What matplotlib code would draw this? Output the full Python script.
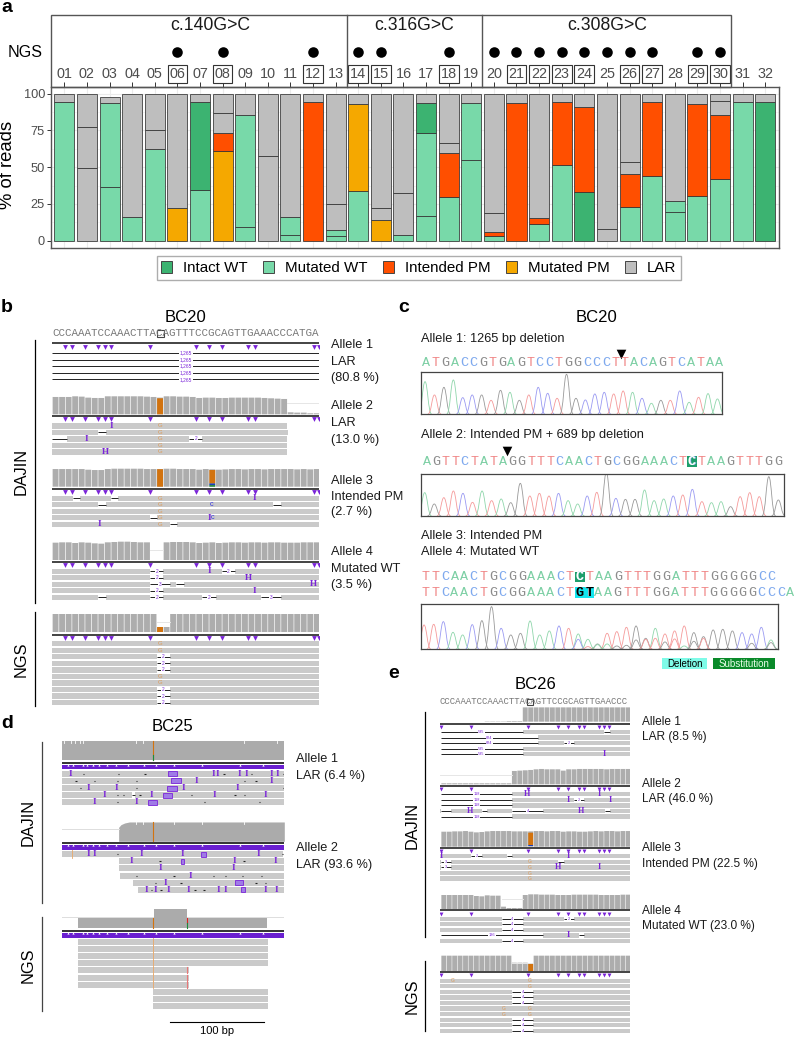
"""Composite figure: allele fractions per barcode, read pileups and Sanger traces."""

import matplotlib

matplotlib.use("Agg")
import matplotlib.pyplot as plt
import numpy as np
from matplotlib.patches import Patch, PathPatch, Rectangle
from matplotlib.path import Path

W, H = 795, 1037
plt.rcParams["font.family"] = ["Liberation Sans", "DejaVu Sans"]

# panel a
BARCODES = [f"{i:02d}" for i in range(1, 33)]
ALLELE_NAMES = ["Intact WT", "Mutated WT", "Intended PM", "Mutated PM", "LAR"]
ALLELE_KEYS = ["W", "M", "I", "P", "L"]
ALLELE_COLORS = ["#3cb371", "#78d9a9", "#ff4f00", "#f5a800", "#bebebe"]
BAR_KINDS = [
    "ML", "LLL", "MML", "ML", "MLL", "PL", "MWL", "PILL", "MML", "LL", "MML", "IL", "MMLL", "MPL", "PLL", "MLL",
    "MMWL", "MILL", "MML", "MILL", "IL", "MIL", "MIL", "WIL", "LL", "MILL", "MIL", "MML", "MIL", "MILL", "ML", "WL",
]
BAR_TOPS = [
    [94.1, 100], [49.4, 77.1, 100], [36.3, 93.4, 98, 100], [16.3, 100], [62.4, 75.3, 100], [22.4, 100],
    [34.5, 94.6, 100], [61.2, 73.5, 86.6, 100], [9.5, 85.3, 100], [57.8, 100], [3.9, 15.9, 100], [94.3, 100],
    [3, 7, 24.7, 100], [34, 92.7, 100], [14, 22, 100], [3.6, 32.7, 100], [16.8, 73.5, 93.4, 100],
    [29.5, 60, 66.2, 100], [54.9, 93.7, 100], [3, 5.7, 19, 100], [93.7, 100], [11.3, 15.6, 100],
    [51.2, 94.6, 100], [32.9, 91.2, 100], [7.9, 100], [22.7, 45.1, 53.7, 100], [44.2, 94.1, 100],
    [19.3, 26.8, 100], [30.4, 92.7, 100], [42.2, 85.3, 94.8, 100], [94.3, 100], [94.3, 100],
]
NGS_BARCODES = [6, 8, 12, 14, 15, 18, 20, 21, 22, 23, 24, 25, 26, 27, 29, 30]
BOXED_BARCODES = [6, 8, 12, 14, 15, 18, 21, 22, 23, 24, 26, 27, 29, 30]
STRIP_LABELS = ["c.140G>C", "c.316G>C", "c.308G>C"]

# panel b
B_SEQ = "CCCAAATCCAAACTTACAGTTTCCGCAGTTGAAACCCATGA"
B_MOTIFS = [2, 3, 5, 7, 8, 9, 15, 22, 24, 26, 30, 31, 40, 40.8]
B_COV2 = [52, 52, 52, 54, 53, 50, 49, 49, 54, 54, 54, 54, 54, 54, 53, 52, 50, 54, 54, 53, 53, 52, 49, 50, 50, 49,
          49, 50, 50, 50, 50, 50, 49, 48, 47, 46, 6, 5, 5, 3, 3]
B_COV3 = [53, 53, 53, 53, 53, 51, 50, 50, 53, 54, 54, 54, 54, 54, 53, 53, 53, 54, 54, 53, 53, 53, 51, 53, 52, 51,
          52, 53, 53, 52, 53, 53, 52, 53, 53, 53, 53, 52, 53, 52, 53]
B_COV4 = [52, 53, 53, 51, 53, 52, 50, 49, 53, 54, 55, 55, 54, 53, 53, 0, 0, 53, 54, 54, 54, 53, 51, 52, 53, 51,
          52, 53, 53, 52, 53, 53, 52, 53, 53, 52, 52, 52, 53, 53, 53]
B_COVN = [54, 54, 54, 54, 54, 54, 54, 54, 54, 54, 54, 54, 54, 54, 54, 54, 15, 15, 54, 54, 54, 54, 54, 54, 54, 54,
          54, 54, 54, 54, 54, 54, 54, 54, 54, 54, 54, 54, 54, 54, 54]
B_READS1 = [(0, 0, [("D", 0, 40.9, "1,265")]) for _ in range(5)]
B_READS2 = [
    (0, 35.9, [("I", 9.1), ("G", 16.5)]),
    (0, 36.1, [("D", 7, 8.2, None), ("G", 16.5)]),
    (0, 35.9, [("D", 0, 2.2, None), ("I", 5.2), ("G", 16.5), ("D", 21, 23, "2")]),
    (0, 35.9, [("G", 16.5)]),
    (0, 35.9, [("H", 8.1), ("G", 16.5)]),
]
B_READS3 = [
    (0, 41, [("D", 3.1, 4.2, None), ("D", 9, 10.1, None), ("I", 31), ("G", 16.5)]),
    (0, 41, [("D", 7, 8.2, None), ("C", 24.4), ("D", 33.8, 35, None), ("G", 16.5)]),
    (0, 41, [("G", 16.5)]),
    (0, 41, [("D", 15, 16.1, None), ("I", 24.1), ("C", 24.5), ("G", 16.5)]),
    (0, 41, [("I", 7.2), ("D", 18, 19.1, None), ("G", 16.5)]),
]
B_READS4 = [
    (0, 41, [("D", 15, 17, "2"), ("I", 24), ("D", 26, 28, "2")]),
    (0, 41, [("D", 15, 17, "2"), ("H", 30)]),
    (0, 41, [("D", 15, 18, "3"), ("D", 19, 20.1, None), ("H", 40)]),
    (0, 41, [("D", 15, 17, "2"), ("I", 31)]),
    (0, 41, [("D", 7, 8.2, None), ("D", 15, 17, "2"), ("D", 23, 25, "2"), ("D", 32, 35, "3")]),
]
B_READSN = [(0, 41, [("G", 16.5)] if kind == "G" else [("D", 16, 18, "2")]) for kind in "GGDDDGGDDD"]

# panel c
C_SEQ1 = "ATGACCGTGAGTCCTGGCCCTTACAGTCATAA"
C_SEQ2 = "AGTTCTATAGGTTTCAACTGCGGAAACTCTAAGTTTGG"
C_SEQ3 = "TTCAACTGCGGAAACTCTAAGTTTGGATTTGGGGGCC"
C_SEQ4 = "TTCAACTGCGGAAACTGTAAGTTTGGATTTGGGGGCCCA"
TRACE1_CALLS = "ATGACCGTGAGTCCTGGCCCTTACAGTCATAA"
TRACE1_PEAKS = [98, 58, 81, 103, 50, 58, 58, 42, 72, 66, 42, 58, 81, 63, 48, 120, 48, 43, 61, 66, 61, 70, 66, 48,
                33, 42, 42, 70, 36, 51, 62, 46]
TRACE2_CALLS = "AGTTCTATAGGTTTCAACTGCGGAAACTCTAAGTTTGG"
TRACE2_PEAKS = [70, 36, 55, 75, 68, 41, 75, 46, 51, 40, 98, 60, 68, 60, 68, 46, 36, 60, 71, 130, 53, 50, 50, 78,
                46, 51, 60, 63, 80, 43, 40, 43, 28, 58, 70, 58, 118, 48]
TRACE3_PEAKS = [73, 75, 83, 51, 43, 74, 86, 128, 63, 43, 48, 85, 43, 55, 70, 63, 46, 30, 16, 48, 53, 66, 70, 33,
                63, 46, 55, 70, 50, 38, 58, 60, 55, 50, 46, 66, 28]
TRACE3_MAIN = "TTCAACGGCGGAAACTAAGTTTGGATTTGGGGGCCCA"
TRACE3_SECOND = "................CTAAGGGTTGTAGTT...GGGCC"[:37]
TRACE3_SECOND_PEAKS = [0] * 16 + [30, 8, 14, 16, 10, 12, 28, 30, 33, 22, 31, 10, 24, 33, 0, 0, 0, 20, 18, 0, 20]

# panel d, positions in bp
D_READS1 = [
    (0, 237.4, [("I", 8.9), ("X", 113.5, 123.1), ("I", 161.6), ("I", 165.8), ("I", 189.7), ("I", 197.5), ("I", 223.8),
                ("I", 230.6), ("d", 22.8), ("d", 60.1), ("d", 88.6), ("d", 173), ("d", 202.5), ("d", 236.3)]),
    (0, 237.4, [("X", 116.4, 126.7), ("I", 143.4), ("I", 223.8), ("d", 14.9), ("d", 34.5), ("d", 59.4), ("d", 79.7),
                ("d", 194.7), ("d", 207.1)]),
    (0, 237.4, [("I", 28.5), ("I", 58.4), ("X", 112.5, 122.4), ("I", 129.5), ("I", 187.9), ("d", 19.6), ("d", 79.7),
                ("d", 236.3)]),
    (0, 237.4, [("I", 45.2), ("I", 95.7), ("X", 107.5, 117.4), ("I", 162.3), ("I", 217.4), ("d", 59.4), ("d", 65.5),
                ("D", 74.5, 78, None), ("d", 83.3), ("d", 138.4), ("d", 184.7), ("d", 194.7)]),
    (0, 237.4, [("I", 34.5), ("I", 79.7), ("X", 91.8, 101.1), ("d", 59.1), ("d", 152), ("d", 210.7)]),
]
D_READS2 = [
    (0, 236, [("T", 11), ("I", 28.5), ("I", 34.9), ("I", 84.7), ("I", 128.8), ("X", 148.4, 153.4), ("I", 209.6),
              ("d", 59.1), ("d", 235.2)]),
    (60.5, 237.4, [("I", 73.7), ("X", 127, 130.6), ("I", 184.3), ("I", 227.8), ("d", 104.6), ("d", 194.3)]),
    (60.5, 237.4, [("I", 105), ("I", 183.6)]),
    (61.9, 237.4, [("I", 137), ("d", 79.7), ("d", 119.6), ("d", 161.6), ("d", 174.7), ("d", 192.5), ("d", 213.2)]),
    (75.4, 237.4, [("I", 111), ("X", 184.7, 192.9), ("d", 99.6), ("d", 127), ("d", 207.1), ("d", 217.4)]),
    (80.8, 237.4, [("I", 90.7), ("I", 99.3), ("I", 114.2), ("I", 135.2), ("I", 167.3), ("I", 174.4),
                   ("X", 191.5, 195.4), ("I", 217.8), ("I", 229.5), ("d", 95.7), ("d", 105.7), ("d", 142), ("d", 151.6)]),
]
D_READSN = [
    (17.4, 219.6, [("T", 97.5)]), (17.4, 219.6, [("T", 97.5)]), (17.4, 219.6, [("T", 97.5)]),
    (17.4, 219.6, [("T", 97.5)]),
    (17.4, 135.9, [("T", 97.5), ("R", 133.8)]), (17.4, 135.9, [("T", 97.5), ("R", 133.8)]),
    (17.4, 135.9, [("T", 97.5), ("R", 133.8)]),
    (97.5, 219.6, []), (97.5, 219.6, []), (97.5, 219.6, []),
]
D_COV1_X = [0, 237.4]
D_COV1_H = [58, 58]
D_COV1_NOTCH = [2.5, 10, 14, 19, 22, 78.5, 87, 194, 230]
D_COV2_X = [60.5, 60.5, 63, 67, 72, 237.4]
D_COV2_H = [0, 42, 50, 55, 58, 58]
D_COV2_NOTCH = [78.5, 87, 194, 150, 120]
D_COVN_X = [17.1, 97.9, 97.9, 133.8, 133.8, 219.2]
D_COVN_H = [32, 32, 58, 58, 32, 32]
D_BAND_NOTCH = [6, 12, 22, 27, 33, 39, 48, 58, 70, 88, 100, 120, 150, 190, 215]

# panel e
E_SEQ = "CCCAAATCCAAACTTACAGTTCCGCAGTTGAACCC"
E_MOTIFS = [0.2, 5.7, 16.2, 21.8, 23.6, 25.6, 26.5, 29.3, 30.3, 31.2]
E_COV1 = [0, 0, 0, 0, 0, 0, 0, 0, 1, 1, 1, 1, 2, 2, 2, 43, 43, 43, 43, 43, 43, 43, 43, 43, 43, 43, 43, 43, 43, 43,
          43, 43, 43, 43, 43]
E_COV2 = [3, 3, 3, 3, 3, 3, 3, 3, 3, 3, 3, 3, 3, 40, 41, 42, 43, 45, 46, 45, 45, 45, 41, 45, 45, 46, 46, 46, 46, 46,
          45, 46, 46, 46, 46]
E_COV3 = [45, 45, 46, 46, 47, 45, 43, 44, 46, 47, 47, 47, 47, 46, 46, 46, 46, 47, 47, 46, 47, 47, 45, 46, 46, 45,
          45, 46, 47, 46, 47, 47, 46, 47, 47]
E_COV4 = [42, 42, 42, 42, 42, 42, 39, 38, 41, 40, 40, 7, 3, 3, 3, 42, 44, 44, 43, 43, 43, 42, 42, 42, 43, 43, 43,
          43, 43, 42, 42, 42, 42, 43, 43]
E_COVN = [46, 46, 46, 46, 46, 46, 46, 46, 46, 46, 46, 46, 46, 25, 25, 25, 23, 46, 46, 46, 46, 46, 46, 46, 46, 46,
          46, 46, 46, 46, 46, 46, 46, 46, 46]
E_READS1 = [
    (15.2, 35, [("D", 0.1, 15.2, "535"), ("D", 30.2, 31.3, None)]),
    (18.1, 35, [("D", 0.1, 18.1, "824")]),
    (18.1, 35, [("D", 0.1, 18.1, "824"), ("D", 22.8, 24.7, "2")]),
    (15.2, 35, [("D", 0.1, 15.2, "535")]),
    (15.2, 35, [("D", 0.1, 15.2, "535"), ("I", 30.3)]),
]
E_READS2 = [
    (13.3, 35, [("D", 0.1, 13.3, "118"), ("H", 16.1), ("I", 29.3)]),
    (13.3, 35, [("D", 0.1, 13.3, "118"), ("I", 23.7), ("D", 24.7, 26.5, "2"), ("I", 31.3)]),
    (13.3, 35, [("D", 0.1, 13.3, "118")]),
    (0, 35, [("D", 0.1, 2.1, None), ("H", 5.5), ("D", 7.7, 8.6, None), ("D", 13.3, 19, "4"), ("H", 25.9),
             ("D", 30.4, 31.3, None)]),
    (13.3, 35, [("D", 0.1, 13.3, "118")]),
]
E_READS3 = [
    (0, 35, [("I", 0.2), ("D", 5.8, 7.7, "2"), ("D", 12.4, 13.3, None), ("I", 23.7)]),
    (0, 35, [("D", 0.1, 2, "3"), ("G", 16.6), ("D", 21.8, 22.8, None)]),
    (0, 35, [("D", 0.1, 2, "3"), ("G", 16.6), ("H", 21.8), ("I", 29.3)]),
    (0, 35, [("G", 16.6)]),
    (0, 35, [("G", 16.6)]),
]
E_READS4 = [
    (0, 35, [("D", 11.4, 15.2, "4"), ("D", 22.8, 24.7, "2")]),
    (0, 35, [("D", 11.4, 15.2, "4")]),
    (0, 35, [("D", 11.4, 15.2, "4")]),
    (19, 35, [("D", 0.1, 19, "136"), ("I", 23.7), ("D", 25.6, 26.5, None)]),
    (0, 35, [("D", 11.4, 15.2, "4")]),
]
E_READSN = [
    (0, 35, [("G", 2.3), ("G", 16.6)]),
    (0, 35, [("G", 16.6)]),
    (0, 35, [("D", 13.3, 17.1, "4")]),
    (0, 35, [("D", 13.3, 17.1, "4")]),
    (0, 35, [("D", 13.3, 17.1, "4")]),
    (0, 35, [("G", 11.8), ("G", 16.6)]),
    (0, 35, [("G", 11.8), ("G", 16.6)]),
    (0, 35, [("D", 13.3, 17.1, "4")]),
    (0, 35, [("D", 13.3, 17.1, "4")]),
    (0, 35, [("D", 13.3, 17.1, "4")]),
]

READ_GREY = "#cacaca"
COV_GREY = "#adadad"
ORANGE = "#d2730f"
PURPLE = "#7a24d8"
BASE_COLORS = {"A": "#7ccfa4", "T": "#f08686", "C": "#7ea9ee", "G": "#8c8c8c"}
TRACE_COLORS = {"A": "#8fd6ab", "T": "#f59a9a", "C": "#9a9af2", "G": "#999999", ".": "none"}


def px_axes(fig, x0, y0, x1, y1):
    return fig.add_axes([x0 / W, 1 - y1 / H, (x1 - x0) / W, (y1 - y0) / H])


def draw_bars(fig):
    ax = px_axes(fig, 51.3, 86.7, 779, 248)
    x = np.arange(1, 33)
    ax.set_axisbelow(True)
    ax.grid(True, color="#ebebeb", lw=0.8)
    for pos, kinds, tops in zip(x, BAR_KINDS, BAR_TOPS):
        bottom = 0
        for kind, top in zip(kinds, tops):
            color = ALLELE_COLORS[ALLELE_KEYS.index(kind)]
            ax.bar(pos, top - bottom, bottom=bottom, width=0.885, color=color, edgecolor=(0.2, 0.2, 0.2, 0.8), lw=0.7)
            bottom = top
    ax.set_xlim(0.425, 32.61)
    ax.set_ylim(-5, 104.8)
    ax.set_yticks([0, 25, 50, 75, 100])
    ax.set_yticks([12.5, 37.5, 62.5, 87.5], minor=True)
    ax.grid(True, which="minor", axis="y", color="#f2f2f2", lw=0.5)
    ax.tick_params(axis="y", which="minor", length=0)
    ax.tick_params(axis="y", labelsize=9.2, labelcolor="#4d4d4d", color="#333333", length=3, width=0.7, pad=1.5)
    ax.set_ylabel("% of reads", fontsize=13.3)
    ax.yaxis.set_label_coords(-0.0485, 0.515)
    ax.xaxis.tick_top()
    ax.set_xticks(x, BARCODES)
    ax.tick_params(axis="x", labelsize=10.4, labelcolor="#4d4d4d", color="#333333", length=3.6, width=0.7, pad=0.4)
    for label, pos in zip(ax.get_xticklabels(), x):
        if pos in BOXED_BARCODES:
            label.set_bbox(dict(boxstyle="square,pad=0.13", fc="white", ec="#333333", lw=0.8))
    ax.plot(NGS_BARCODES, [128.4] * len(NGS_BARCODES), "o", color="black", ms=7.6, mew=0, clip_on=False)
    for spine in ax.spines.values():
        spine.set_color("#555555")
        spine.set_linewidth(1.0)
    handles = [Patch(facecolor=c, edgecolor="#444444", lw=0.7) for c in ALLELE_COLORS]
    legend = fig.legend(
        handles, ALLELE_NAMES, ncol=5, loc="center", bbox_to_anchor=(419 / W, 1 - 267.8 / H), fontsize=10.9,
        frameon=True, fancybox=False, edgecolor="#999999", handlelength=0.72, handleheight=0.85,
        handletextpad=0.72, columnspacing=1.03, borderpad=0.32, borderaxespad=0,
    )
    legend.get_frame().set_linewidth(1.0)


def draw_read(ax, y, h, read, font, bw):
    start, end, events = read
    if end > start:
        ax.add_patch(Rectangle((start, y - h / 2), end - start, h, fc=READ_GREY, ec="none"))
    for event in events:
        kind = event[0]
        if kind == "d":
            ax.plot([event[1] - bw / 2, event[1] + bw / 2], [y, y], color="#222222", lw=0.8, zorder=3,
                    solid_capstyle="butt")
        elif kind == "D":
            a, b, label = event[1:]
            ax.add_patch(Rectangle((a, y - h / 2), b - a, h, fc="white", ec="none", zorder=2))
            ax.plot([a, b], [y, y], color="#222222", lw=0.7, zorder=3, solid_capstyle="butt")
            if label:
                ax.text((a + b) / 2, y, label, color=PURPLE, fontsize=font - 1.8, ha="center", va="center", zorder=4,
                        bbox=dict(fc="white", ec="none", pad=0.4))
        elif kind == "I":
            ax.text(event[1], y, "I", color=PURPLE, fontsize=font + 1.3, family="Liberation Serif",
                    fontweight="bold", ha="center", va="center", zorder=4)
        elif kind == "H":
            ax.text(event[1], y, "H", color=PURPLE, fontsize=font + 1.3, family="Liberation Serif",
                    fontweight="bold", ha="center", va="center", zorder=4)
        elif kind == "X":
            ax.add_patch(Rectangle((event[1], y - h / 2 + 0.5), event[2] - event[1], h - 1, fc="#9f7be6", ec=PURPLE,
                                   lw=0.6, zorder=4))
        elif kind == "G":
            ax.text(event[1], y, "G", color="#dc9a58", fontsize=font - 1, ha="center", va="center", zorder=4)
        elif kind == "C":
            ax.text(event[1], y, "c", color="#3a3ae0", fontsize=font, ha="center", va="center", zorder=4)
        elif kind == "T":
            ax.plot([event[1], event[1]], [y - h / 2 - 0.6, y + h / 2 + 0.6], color="#e8a868", lw=0.6, zorder=3)
        elif kind == "R":
            ax.plot([event[1], event[1]], [y - h / 2, y + h / 2], color="#e87878", lw=0.8, zorder=3)


def draw_cov(ax, depth, bottom, offset=0.0):
    heights = np.array(depth) / 3
    bars = ax.bar(np.arange(len(depth)) + offset + 0.5, heights, bottom=bottom - heights, width=0.9, color=COV_GREY)
    for bar in bars:
        bar.set_snap(False)


def mark_cov(ax, pos, top, height, color):
    bars = ax.bar(pos, height, bottom=top, width=0.9, color=color)
    bars[0].set_snap(False)


def draw_block(ax, motifs, line_y, tri_y, row0, step, row_h, reads, font, tri_size):
    ax.plot(ax.get_xlim(), [line_y, line_y], color="#111111", lw=1.1, solid_capstyle="butt")
    ax.scatter(motifs, [tri_y] * len(motifs), marker="v", s=tri_size, color=PURPLE, linewidths=0, zorder=3)
    for i, read in enumerate(reads):
        draw_read(ax, row0 + i * step, row_h, read, font, 1.0)


def draw_panel_b(fig):
    ax = px_axes(fig, 52.3, 335, 319, 712)
    ax.set_xlim(0, 40.84)
    ax.set_ylim(712, 335)
    ax.axis("off")
    draw_block(ax, B_MOTIFS, 343.3, 346.7, 353, 6.6, 1, B_READS1, 5.3, 12)
    draw_cov(ax, B_COV2, 414.3)
    ax.plot([36, 40.84], [403.5, 403.5], color="#e6e6e6", lw=0.7)
    mark_cov(ax, 16.5, 398.3, 16, ORANGE)
    draw_block(ax, B_MOTIFS, 416, 419.3, 426, 6.5, 5.3, B_READS2, 5.3, 12)
    draw_cov(ax, B_COV3, 486.7)
    mark_cov(ax, 16.5, 469.2, 17.5, ORANGE)
    mark_cov(ax, 24.5, 470, 13.5, ORANGE)
    mark_cov(ax, 24.5, 483.5, 1.6, "#1a3fc0")
    mark_cov(ax, 24.5, 485.1, 1.6, "#1d8a3a")
    draw_block(ax, B_MOTIFS, 488.7, 492.3, 498.3, 6.5, 5.3, B_READS3, 5.3, 12)
    draw_cov(ax, B_COV4, 560)
    ax.plot([15, 17], [550, 550], color="#e6e6e6", lw=0.7)
    draw_block(ax, B_MOTIFS, 561.7, 565, 571.3, 6.5, 5.3, B_READS4, 5.3, 12)
    draw_cov(ax, B_COVN, 632)
    ax.plot([16, 18], [622, 622], color="#e6e6e6", lw=0.7)
    mark_cov(ax, 16.5, 627, 5, ORANGE)
    draw_block(ax, B_MOTIFS, 635, 638, 643.7, 6.55, 5.3, B_READSN, 5.3, 12)


def draw_panel_d(fig):
    ax = px_axes(fig, 62, 735, 284.3, 1015)
    ax.set_xlim(0, 237.4)
    ax.set_ylim(1015, 735)
    ax.axis("off")
    blocks = [
        (760, 762.7, 765, 773.7, D_READS1),
        (841.3, 843.3, 845.3, 854, D_READS2),
        (928.3, 930.7, 933.3, 941.7, D_READSN),
    ]
    covs = [(D_COV1_X, D_COV1_H, D_COV1_NOTCH), (D_COV2_X, D_COV2_H, D_COV2_NOTCH), (D_COVN_X, D_COVN_H, [])]
    for (bottom, line_y, band_y, row0, reads), (cov_x, cov_h, notches) in zip(blocks, covs):
        top = bottom - np.array(cov_h) / 3
        ax.fill_between(cov_x, bottom, top, color="#ababab", lw=0)
        for notch in notches:
            ax.plot([notch, notch], [bottom - 58 / 3, bottom - 58 / 3 + 2.5], color="white", lw=0.6)
        ax.plot([0, 237.4], [line_y, line_y], color="#111111", lw=1.2, solid_capstyle="butt")
        ax.add_patch(Rectangle((0, band_y), 237.4, 4.2, fc="#6a1fd0", ec="none"))
        ax.scatter(D_BAND_NOTCH, [band_y - 0.1] * len(D_BAND_NOTCH), marker="^", s=2.5, color="white", linewidths=0)
        for i, read in enumerate(reads):
            draw_read(ax, row0 + i * 7.18, 6, read, 5.3, 1.3)
    ax.plot([0, 60.5], [829.3, 829.3], color="#dddddd", lw=0.7)
    ax.plot([0, 237.4], [917.3, 917.3], color="#dddddd", lw=0.7, zorder=0)
    for pos, colors in ((97.5, ("#d2730f", "#d2730f")), (133.8, ("#e02020", "#1d8a3a"))):
        ax.plot([pos, pos], [917.5, 922.5], color=colors[0], lw=0.8)
        ax.plot([pos, pos], [922.5, 928.3], color=colors[1], lw=0.8)
    for bottom in (760, 841.3):
        ax.plot([97.5, 97.5], [bottom - 19.3, bottom], color=ORANGE, lw=0.8)
    ax.plot([97.5, 97.5], [755, 760], color="#1d8a3a", lw=0.8)


def draw_panel_e(fig):
    ax = px_axes(fig, 440, 705, 630, 1036)
    ax.set_xlim(0, 35)
    ax.set_ylim(1036, 705)
    ax.axis("off")
    draw_cov(ax, E_COV1, 721.7, 0.2)
    draw_block(ax, E_MOTIFS, 723.7, 727, 732, 5.57, 4.3, E_READS1, 4.6, 8)
    draw_cov(ax, E_COV2, 784.3, 0.2)
    ax.plot([0, 13.3], [775.3, 775.3], color="#e6e6e6", lw=0.7)
    draw_block(ax, E_MOTIFS, 786, 789, 794.3, 5.57, 4.3, E_READS2, 4.6, 8)
    draw_cov(ax, E_COV3, 846.7, 0.2)
    mark_cov(ax, 16.7, 832.7, 12.3, ORANGE)
    mark_cov(ax, 16.7, 845, 1, "#1a3fc0")
    draw_block(ax, E_MOTIFS, 847.7, 851.3, 856.3, 5.57, 4.3, E_READS3, 4.6, 8)
    draw_cov(ax, E_COV4, 909, 0.2)
    ax.plot([11.4, 15.2], [899, 899], color="#e6e6e6", lw=0.7)
    draw_block(ax, E_MOTIFS, 910.3, 913.7, 918.7, 5.57, 4.3, E_READS4, 4.6, 8)
    draw_cov(ax, E_COVN, 971, 0.2)
    ax.plot([13.3, 17.1], [963, 963], color="#e6e6e6", lw=0.7)
    mark_cov(ax, 16.7, 963.3, 7.7, ORANGE)
    draw_block(ax, E_MOTIFS, 972.3, 975.3, 980.7, 5.57, 4.3, E_READSN, 4.6, 8)


def peak_path(pos, height, half=0.72):
    verts = [
        (pos - half, 0), (pos - half * 0.45, 0), (pos - half * 0.38, height), (pos, height),
        (pos + half * 0.38, height), (pos + half * 0.45, 0), (pos + half, 0),
    ]
    codes = [Path.MOVETO] + [Path.CURVE4] * 6
    return Path(verts, codes)


def draw_trace(fig, rect, xlim, calls, peaks, second=None, second_peaks=None):
    ax = px_axes(fig, *rect)
    ax.set_xlim(*xlim)
    ax.set_ylim(0, (rect[3] - rect[1]) * 3)
    ax.set_xticks([])
    ax.set_yticks([])
    for spine in ax.spines.values():
        spine.set_color("#444444")
        spine.set_linewidth(0.9)
    for i, (call, height) in enumerate(zip(calls, peaks)):
        ax.add_patch(PathPatch(peak_path(i, height), fc="none", ec=TRACE_COLORS[call], lw=0.6))
    if second:
        for i, (call, height) in enumerate(zip(second, second_peaks)):
            if height:
                ax.add_patch(PathPatch(peak_path(i, height), fc="none", ec=TRACE_COLORS[call], lw=0.6))
    ax.plot(xlim, [1.5, 1.5], color="#f2a0a0", lw=0.6)
    ax.plot(xlim, [0.8, 0.8], color="#a0a0f0", lw=0.5)


def draw_bases(canvas, seq, x0, step, y):
    for i, base in enumerate(seq):
        canvas.text(x0 + i * step, y, base, color=BASE_COLORS[base], fontsize=9.6, family="Liberation Mono",
                    ha="center", va="center")


def draw_canvas(canvas):
    # panel a strip
    canvas.add_patch(Rectangle((51.3, 15), 731 - 51.3, 71.7, fc="none", ec="#555555", lw=1.0))
    for x in (347, 482.3):
        canvas.plot([x, x], [15, 86.7], color="#555555", lw=1.0)
    for label, x in zip(STRIP_LABELS, (210, 414.5, 606.7)):
        canvas.text(x, 25.5, label, fontsize=12.7, ha="center", va="center", color="#1a1a1a")
    canvas.text(25, 52.5, "NGS", fontsize=11.6, ha="center", va="center")

    letters = [("a", 7, 7), ("b", 7, 307), ("c", 404, 307), ("d", 7, 723), ("e", 394, 674)]
    for text, x, y in letters:
        canvas.text(x, y, text, fontsize=14, fontweight="bold", ha="center", va="center")

    titles = [("BC20", 185.7, 317), ("BC20", 596.7, 317), ("BC25", 172.7, 726.5), ("BC26", 535, 684.5)]
    for text, x, y in titles:
        canvas.text(x, y, text, fontsize=12, ha="center", va="center")

    # side brackets with method names
    brackets = [
        (34.7, 340, 602.7, 20.7, 471.7, "DAJIN", "black"),
        (34.7, 612.3, 706, 20.7, 659.7, "NGS", "black"),
        (42, 742.3, 902.7, 28.3, 822.7, "DAJIN", "#444444"),
        (42, 917.3, 1010.7, 28.3, 965, "NGS", "#444444"),
        (424.7, 711.7, 937.3, 412.3, 825, "DAJIN", "black"),
        (424.7, 960.7, 1030.7, 412.3, 996, "NGS", "black"),
    ]
    for x, y0, y1, tx, ty, text, color in brackets:
        canvas.plot([x, x], [y0, y1], color=color, lw=0.9)
        canvas.text(tx, ty, text, rotation=90, fontsize=11.7, ha="center", va="center")

    # reference sequences above pileups
    canvas.text(52.5, 333.3, B_SEQ, family="Liberation Mono", fontsize=7.8, color="#777777", ha="left", va="center")
    canvas.add_patch(Rectangle((157, 330), 6.5, 7, fc="none", ec="#444444", lw=0.8))
    canvas.text(440, 702, E_SEQ, family="Liberation Mono", fontsize=6.5, color="#777777", ha="left", va="center")
    canvas.add_patch(Rectangle((527, 698.8), 5.5, 6.5, fc="none", ec="#444444", lw=0.8))

    side_labels = [
        (331, 345, "Allele 1"), (331, 361.7, "LAR"), (331, 378.3, "(80.8 %)"),
        (331, 406.3, "Allele 2"), (331, 423, "LAR"), (331, 439.7, "(13.0 %)"),
        (331, 481, "Allele 3"), (331, 497.3, "Intended PM"), (331, 512.5, "(2.7 %)"),
        (331, 552, "Allele 4"), (331, 568.7, "Mutated WT"), (331, 585, "(3.5 %)"),
        (295.7, 759.3, "Allele 1"), (295.7, 776, "LAR (6.4 %)"),
        (295.7, 848.3, "Allele 2"), (295.7, 865, "LAR (93.6 %)"),
    ]
    for x, y, text in side_labels:
        canvas.text(x, y, text, fontsize=9.15, ha="left", va="center", color="#1a1a1a")
    e_labels = [
        (721.7, "Allele 1"), (737, "LAR (8.5 %)"), (783.7, "Allele 2"), (799, "LAR (46.0 %)"),
        (848.3, "Allele 3"), (863.7, "Intended PM (22.5 %)"), (910.7, "Allele 4"), (926, "Mutated WT (23.0 %)"),
    ]
    for y, text in e_labels:
        canvas.text(641.7, y, text, fontsize=8.6, ha="left", va="center", color="#1a1a1a")

    # panel c text and sequences
    c_labels = [
        (339.3, "Allele 1: 1265 bp deletion"), (435.3, "Allele 2: Intended PM + 689 bp deletion"),
        (536, "Allele 3: Intended PM"), (552.3, "Allele 4: Mutated WT"),
    ]
    for y, text in c_labels:
        canvas.text(420.7, y, text, fontsize=9.15, ha="left", va="center", color="#1a1a1a")
    canvas.add_patch(Rectangle((686.7, 456.3), 10.6, 10.6, fc="#1e9e6b", ec="none"))
    canvas.add_patch(Rectangle((574.5, 571.5), 10.6, 10.6, fc="#1e9e6b", ec="none"))
    canvas.add_patch(Rectangle((574.5, 587.3), 19.7, 10.6, fc="#12e6f0", ec="none"))
    draw_bases(canvas, C_SEQ1, 426.3, 9.45, 363)
    draw_bases(canvas, C_SEQ2, 426.7, 9.49, 461.7)
    draw_bases(canvas, C_SEQ3, 425.7, 9.61, 576.7)
    draw_bases(canvas, C_SEQ4, 425.7, 9.6, 592.7)
    canvas.text(692, 461.7, "C", color="white", fontsize=9.6, family="Liberation Mono", fontweight="bold",
                ha="center", va="center")
    canvas.text(579.8, 576.7, "C", color="white", fontsize=9.6, family="Liberation Mono", fontweight="bold",
                ha="center", va="center")
    for x, base in ((579.8, "G"), (589.4, "T")):
        canvas.text(x, 592.7, base, color="black", fontsize=9.6, family="Liberation Mono", fontweight="bold",
                    ha="center", va="center")
    canvas.scatter([620.7, 506.7], [353.5, 451], marker="v", s=48, color="black", linewidths=0)
    canvas.add_patch(Rectangle((662.3, 658.3), 45, 11, fc="#7ffbe8", ec="none"))
    canvas.add_patch(Rectangle((712.7, 658.3), 62, 11, fc="#0a8a2a", ec="none"))
    canvas.text(684.8, 664, "Deletion", fontsize=7, ha="center", va="center")
    canvas.text(743.7, 664, "Substitution", fontsize=7, color="#e8ffe8", ha="center", va="center")

    # scale bar of panel d
    canvas.plot([170.3, 264], [1022.3, 1022.3], color="black", lw=0.8)
    canvas.text(216.7, 1031, "100 bp", fontsize=8, ha="center", va="center")


def main():
    fig = plt.figure(figsize=(W / 100, H / 100), dpi=100)
    draw_bars(fig)
    draw_panel_b(fig)
    draw_panel_d(fig)
    draw_panel_e(fig)
    draw_trace(fig, (420.7, 372.3, 721.7, 414.3), (-0.46, 31.45), TRACE1_CALLS, TRACE1_PEAKS)
    draw_trace(fig, (420.7, 474, 784.3, 516), (-0.42, 37.62), TRACE2_CALLS, TRACE2_PEAKS)
    draw_trace(fig, (420.7, 604, 777.7, 649.3), (-0.35, 36.7), TRACE3_MAIN, TRACE3_PEAKS, TRACE3_SECOND,
               TRACE3_SECOND_PEAKS)

    canvas = fig.add_axes([0, 0, 1, 1])
    canvas.set_xlim(0, W)
    canvas.set_ylim(H, 0)
    canvas.axis("off")
    draw_canvas(canvas)

    fig.savefig("out.png", dpi=100)


if __name__ == "__main__":
    main()
